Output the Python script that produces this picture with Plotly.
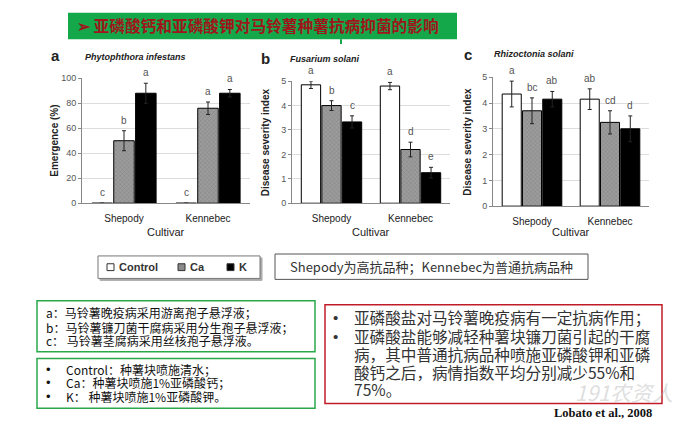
import plotly.graph_objects as go

W, H = 700, 425
def px(x): return x / W
def py(y): return 1 - y / H

cultivars = ["Shepody", "Kennebec"]
series = ["Control", "Ca", "K"]

# Panel a: Phytophthora infestans, Emergence (%)
a_control = [0, 0]
a_ca = [50, 76]
a_k = [88, 88]
a_control_err = [0, 0]
a_ca_err = [8, 5]
a_k_err = [8, 3]
a_letters = [["c", "c"], ["b", "a"], ["a", "a"]]

# Panel b: Fusarium solani, Disease severity index
b_control = [4.85, 4.8]
b_ca = [4.0, 2.2]
b_k = [3.33, 1.25]
b_control_err = [0.15, 0.15]
b_ca_err = [0.2, 0.3]
b_k_err = [0.25, 0.22]
b_letters = [["a", "a"], ["b", "d"], ["c", "e"]]

# Panel c: Rhizoctonia solani, Disease severity index
c_control = [4.35, 4.15]
c_ca = [3.7, 3.25]
c_k = [4.15, 3.0]
c_control_err = [0.5, 0.4]
c_ca_err = [0.5, 0.45]
c_k_err = [0.3, 0.5]
c_letters = [["a", "ab"], ["bc", "cd"], ["ab", "d"]]

panels = [
    dict(ax="x", ay="y", vals=[a_control, a_ca, a_k], errs=[a_control_err, a_ca_err, a_k_err],
         letters=a_letters, xdom=[82, 250], ydom=[203, 75], yr=[0, 100], dt=20,
         ytitle="Emergence (%)", ytx=55, title="Phytophthora infestans", tx=83, ty=53,
         tag="a", tagx=55, tagy=52),
    dict(ax="x2", ay="y2", vals=[b_control, b_ca, b_k], errs=[b_control_err, b_ca_err, b_k_err],
         letters=b_letters, xdom=[292, 450], ydom=[203, 78], yr=[0, 5], dt=1,
         ytitle="Disease severity index", ytx=265, title="Fusarium solani", tx=288, ty=55,
         tag="b", tagx=265, tagy=55),
    dict(ax="x3", ay="y3", vals=[c_control, c_ca, c_k], errs=[c_control_err, c_ca_err, c_k_err],
         letters=c_letters, xdom=[493, 649], ydom=[206, 74], yr=[0, 5], dt=1,
         ytitle="Disease severity index", ytx=468, title="Rhizoctonia solani", tx=492, ty=50,
         tag="c", tagx=468, tagy=51),
]

styles = [
    dict(color="white"),
    dict(color="#9c9c9c", pattern=dict(shape="x", fgcolor="#606060", size=3, solidity=0.25)),
    dict(color="black"),
]

fig = go.Figure()
annotations = []
CH = "Liberation Sans"
CJK = "Noto Sans CJK SC"


def ann(x, y, text, size, color="#222", family=CH, xa="center", angle=0):
    annotations.append(dict(x=px(x), y=py(y), xref="paper", yref="paper", text=text,
                            xanchor=xa, yanchor="middle", textangle=angle, showarrow=False,
                            font=dict(family=family, size=size, color=color)))


for pi, p in enumerate(panels):
    for j, name in enumerate(series):
        fig.add_trace(go.Bar(
            x=cultivars, y=p["vals"][j], name=name,
            xaxis=p["ax"], yaxis=p["ay"], showlegend=False,
            marker=dict(line=dict(color="black", width=1), **styles[j]),
            error_y=dict(type="data", array=p["errs"][j], color="#222", thickness=1, width=2),
        ))
        for i in range(2):
            annotations.append(dict(
                x=i + (j - 1) * 0.26, y=p["vals"][j][i] + p["errs"][j][i],
                xref=p["ax"], yref=p["ay"], text=p["letters"][j][i], showarrow=False,
                xanchor="center", yanchor="bottom", yshift=3,
                font=dict(family=CH, size=10, color="#555")))
    xk = "xaxis" if pi == 0 else f"xaxis{pi+1}"
    yk = "yaxis" if pi == 0 else f"yaxis{pi+1}"
    fig.layout[xk] = dict(domain=[px(p["xdom"][0]), px(p["xdom"][1])], anchor=p["ay"],
                          showline=True, linecolor="#888", linewidth=1, ticks="",
                          tickfont=dict(family=CH, size=10, color="#222"),
                          ticklabelstandoff=6, showgrid=False, mirror=False)
    fig.layout[yk] = dict(domain=[py(p["ydom"][0]), py(p["ydom"][1])], anchor=p["ax"],
                          range=p["yr"], dtick=p["dt"], showline=True, linecolor="#888",
                          ticks="outside", ticklen=3, tickcolor="#888",
                          tickfont=dict(family=CH, size=9, color="#555"),
                          showgrid=True, gridcolor="#dddddd", gridwidth=1, zeroline=False)
    ann(p["ytx"], (p["ydom"][0] + p["ydom"][1]) / 2, f"<b>{p['ytitle']}</b>", 10, angle=-90)
    ann((p["xdom"][0] + p["xdom"][1]) / 2, 232, "Cultivar", 11)
    ann(p["tx"], p["ty"], f"<b><i>{p['title']}</i></b>", 9, xa="left")
    ann(p["tagx"], p["tagy"], f"<b>{p['tag']}</b>", 15)

shapes = []
# Title bar
shapes.append(dict(type="rect", xref="paper", yref="paper", x0=px(68), x1=px(457),
                   y0=py(35), y1=py(8), fillcolor="#14a84a", line=dict(width=0), layer="below"))
shapes.append(dict(type="line", xref="paper", yref="paper", x0=px(341), x1=px(341),
                   y0=py(35), y1=py(40), line=dict(color="#14a84a", width=2)))
ann(75, 21.5, "<b>➢ 亚磷酸钙和亚磷酸钾对马铃薯种薯抗病抑菌的影响</b>", 15.7,
    color="#9e161c", family=CJK, xa="left")

# Legend box (manual)
shapes.append(dict(type="rect", xref="paper", yref="paper", x0=px(100), x1=px(262),
                   y0=py(282), y1=py(259), line=dict(color="#aaa", width=1), fillcolor="#aaa"))
shapes.append(dict(type="rect", xref="paper", yref="paper", x0=px(98), x1=px(260),
                   y0=py(280), y1=py(257), line=dict(color="#777", width=1), fillcolor="white"))
leg_x = [107, 178, 227]
leg_fill = ["white", "#8a8a8a", "black"]
for name, lx, lf in zip(series, leg_x, leg_fill):
    shapes.append(dict(type="rect", xref="paper", yref="paper", x0=px(lx), x1=px(lx + 7),
                       y0=py(272), y1=py(265), fillcolor=lf, line=dict(color="#333", width=1)))
    ann(lx + 10, 268.5, f"<b>{name}</b>", 11, color="#333", xa="left")

# Note box
shapes.append(dict(type="rect", xref="paper", yref="paper", x0=px(275), x1=px(588),
                   y0=py(281), y1=py(255), line=dict(color="#555", width=1), fillcolor="white"))
ann(431.5, 268, "Shepody为高抗品种；Kennebec为普通抗病品种", 13, color="#333", family=CJK)

# Green box 1
shapes.append(dict(type="rect", xref="paper", yref="paper", x0=px(37), x1=px(315),
                   y0=py(355), y1=py(303), line=dict(color="#2aa84a", width=1.5)))
g1 = ["a：马铃薯晚疫病采用游离孢子悬浮液；",
      "b：马铃薯镰刀菌干腐病采用分生孢子悬浮液；",
      "c： 马铃薯茎腐病采用丝核孢子悬浮液。"]
for t, yy in zip(g1, [315, 330, 344]):
    ann(44, yy, t, 12, color="#111", family=CJK, xa="left")

# Green box 2
shapes.append(dict(type="rect", xref="paper", yref="paper", x0=px(37), x1=px(315),
                   y0=py(413), y1=py(362), line=dict(color="#2aa84a", width=1.5)))
g2 = ["Control：种薯块喷施清水；", "Ca：种薯块喷施1%亚磷酸钙；", "K： 种薯块喷施1%亚磷酸钾。"]
for t, yy in zip(g2, [373, 387, 401]):
    ann(44, yy, "•", 13, color="#111", family=CH, xa="left")
    ann(64, yy, t, 12, color="#111", family=CJK, xa="left")

# Red box
shapes.append(dict(type="rect", xref="paper", yref="paper", x0=px(325), x1=px(662),
                   y0=py(408), y1=py(307), line=dict(color="#c01c28", width=1.5)))
r_lines = ["亚磷酸盐对马铃薯晚疫病有一定抗病作用；",
           "亚磷酸盐能够减轻种薯块镰刀菌引起的干腐",
           "病，其中普通抗病品种喷施亚磷酸钾和亚磷",
           "酸钙之后，病情指数平均分别减少55%和",
           "75%。"]
for k, (t, yy) in enumerate(zip(r_lines, [320, 339, 357, 376, 393])):
    if k in (0, 1):
        ann(331, yy, "•", 15, color="#333", family=CH, xa="left")
    ann(352, yy, t, 15.6, color="#333", family=CJK, xa="left")

# Watermark and citation
ann(624, 396, "<i>191农资人</i>", 21, color="rgba(170,170,170,0.4)", family=CJK)
ann(654, 418, "<b>Lobato et al., 2008</b>", 12.5, color="#111", family="Liberation Serif", xa="right")

fig.update_layout(
    width=W, height=H, margin=dict(l=0, r=0, t=0, b=0),
    paper_bgcolor="white", plot_bgcolor="white",
    barmode="group", bargap=0.22, bargroupgap=0.06,
    shapes=shapes, annotations=annotations, showlegend=False,
)

fig.write_html("out.html")
